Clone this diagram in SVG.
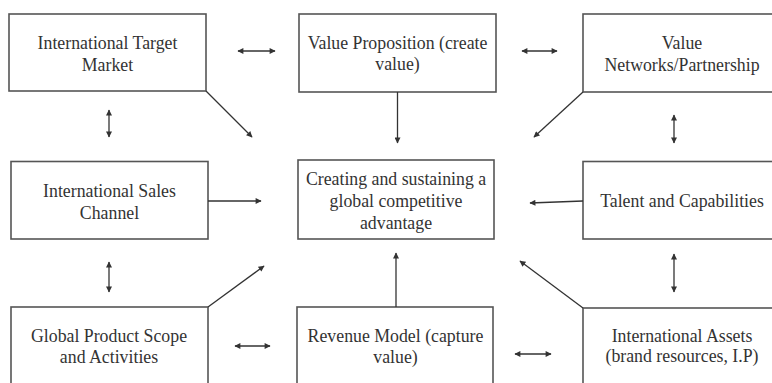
<svg xmlns="http://www.w3.org/2000/svg" width="772" height="383" viewBox="0 0 772 383">
  <style>
    .box { fill: #ffffff; stroke: #555555; stroke-width: 1.6; }
    .lbl { font-family: "Liberation Serif", "Times New Roman", serif; font-size: 17.8px; fill: #333333; text-anchor: middle; }
    .conn { stroke: #333333; stroke-width: 1.3; fill: none; marker-end: url(#head); }
    .both { marker-start: url(#tail); }
  </style>
  <defs>
    <marker id="head" viewBox="0 0 10 10" refX="9" refY="5" markerWidth="7" markerHeight="6" markerUnits="userSpaceOnUse" orient="auto">
      <path d="M0,0 L10,5 L0,10 z" fill="#333333"/>
    </marker>
    <marker id="tail" viewBox="0 0 10 10" refX="1" refY="5" markerWidth="7" markerHeight="6" markerUnits="userSpaceOnUse" orient="auto">
      <path d="M10,0 L0,5 L10,10 z" fill="#333333"/>
    </marker>
  </defs>

  <rect width="772" height="383" fill="#ffffff"/>

  <g id="target-market">
    <rect class="box" x="9" y="14" width="197" height="77"/>
    <text class="lbl" x="107.5" y="49">International Target</text>
    <text class="lbl" x="107.5" y="71">Market</text>
  </g>

  <g id="value-proposition">
    <rect class="box" x="299" y="14" width="197" height="78"/>
    <text class="lbl" x="397.5" y="48.5">Value Proposition (create</text>
    <text class="lbl" x="397.5" y="70">value)</text>
  </g>

  <g id="value-networks">
    <rect class="box" x="583" y="14" width="198" height="78"/>
    <text class="lbl" x="682" y="48.5">Value</text>
    <text class="lbl" x="682" y="71">Networks/Partnership</text>
  </g>

  <g id="sales-channel">
    <rect class="box" x="11" y="161.5" width="197" height="77.5"/>
    <text class="lbl" x="109.5" y="196.5">International Sales</text>
    <text class="lbl" x="109.5" y="218.5">Channel</text>
  </g>

  <g id="competitive-advantage">
    <rect class="box" x="298" y="160" width="196" height="79"/>
    <text class="lbl" x="396" y="184.5">Creating and sustaining a</text>
    <text class="lbl" x="396" y="206.5">global competitive</text>
    <text class="lbl" x="396" y="228.5">advantage</text>
  </g>

  <g id="talent-capabilities">
    <rect class="box" x="583" y="161.5" width="198" height="77.5"/>
    <text class="lbl" x="682" y="206.5">Talent and Capabilities</text>
  </g>

  <g id="product-scope">
    <rect class="box" x="11" y="307" width="197" height="90"/>
    <text class="lbl" x="109" y="341.5">Global Product Scope</text>
    <text class="lbl" x="109" y="363">and Activities</text>
  </g>

  <g id="revenue-model">
    <rect class="box" x="297" y="307" width="196" height="90"/>
    <text class="lbl" x="395.5" y="341.5">Revenue Model (capture</text>
    <text class="lbl" x="395.5" y="363">value)</text>
  </g>

  <g id="international-assets">
    <rect class="box" x="583" y="308" width="198" height="90"/>
    <text class="lbl" x="682" y="342">International Assets</text>
    <text class="lbl" x="682" y="362">(brand resources, I.P)</text>
  </g>

  <g id="connectors">
    <!-- two-way links between neighbouring boxes -->
    <line class="conn both" x1="238" y1="51" x2="275" y2="51"/>
    <line class="conn both" x1="522" y1="51" x2="557" y2="51"/>
    <line class="conn both" x1="109" y1="110" x2="109" y2="137"/>
    <line class="conn both" x1="674" y1="115" x2="674" y2="143"/>
    <line class="conn both" x1="109" y1="262" x2="109" y2="292"/>
    <line class="conn both" x1="674" y1="254" x2="674" y2="292"/>
    <line class="conn both" x1="235" y1="346" x2="270" y2="346"/>
    <line class="conn both" x1="515" y1="354" x2="551" y2="354"/>
    <!-- inputs into the central box -->
    <line class="conn" x1="206" y1="91" x2="252" y2="137"/>
    <line class="conn" x1="397.5" y1="92" x2="397.5" y2="143"/>
    <line class="conn" x1="583" y1="92" x2="534" y2="137"/>
    <line class="conn" x1="208" y1="201" x2="261" y2="201"/>
    <line class="conn" x1="583" y1="201" x2="530" y2="203"/>
    <line class="conn" x1="208" y1="307" x2="264" y2="266"/>
    <line class="conn" x1="396" y1="307" x2="396" y2="253"/>
    <line class="conn" x1="583" y1="308" x2="520" y2="261"/>
  </g>
</svg>
